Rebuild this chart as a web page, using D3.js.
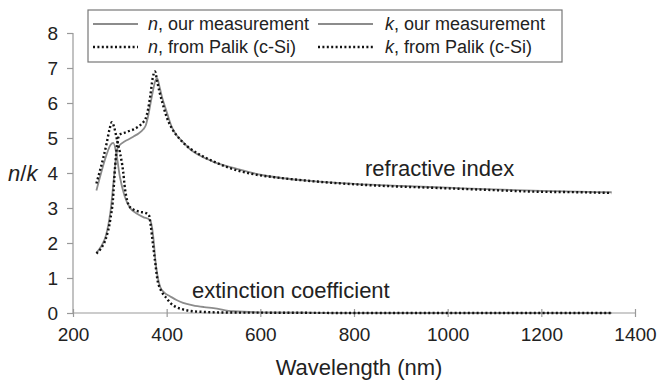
<!DOCTYPE html>
<html>
<head>
<meta charset="utf-8">
<script src="https://cdn.jsdelivr.net/npm/d3@7"></script>
<style>
  body { margin: 0; background: #fff; }
  text { font-family: "Liberation Sans", Arial, sans-serif; fill: #222; }
</style>
</head>
<body>
<script>
var w = 660,
    h = 381;

// n from Palik (c-Si), dotted black
var palikNWl = [250, 260, 270, 280, 285, 290, 295, 300, 310, 320, 330, 340, 350, 355, 360, 365, 370, 375, 380, 385, 390, 400, 410, 428, 445, 465, 500, 535, 580, 642, 700, 764, 850, 984, 1100, 1176, 1280, 1350];
var palikN   = [1.70, 1.85, 2.12, 2.70, 3.20, 4.20, 4.90, 5.10, 5.15, 5.20, 5.25, 5.33, 5.45, 5.55, 5.80, 6.20, 6.70, 6.90, 6.60, 6.30, 6.05, 5.60, 5.30, 4.97, 4.75, 4.57, 4.33, 4.14, 3.98, 3.86, 3.78, 3.71, 3.64, 3.57, 3.51, 3.47, 3.45, 3.43];

// n, our measurement, solid grey
var measNWl = [250, 260, 270, 280, 290, 295, 300, 310, 320, 330, 340, 350, 355, 360, 365, 370, 375, 380, 385, 390, 400, 411, 420, 430, 450, 475, 500, 550, 600, 650, 700, 800, 900, 1000, 1100, 1200, 1300, 1350];
var measN   = [1.72, 1.90, 2.20, 2.90, 4.20, 4.70, 4.80, 4.90, 4.97, 5.05, 5.13, 5.25, 5.35, 5.60, 5.95, 6.30, 6.60, 6.70, 6.45, 6.17, 5.75, 5.31, 5.10, 4.95, 4.68, 4.47, 4.32, 4.12, 3.95, 3.85, 3.78, 3.69, 3.63, 3.58, 3.53, 3.49, 3.46, 3.45];

// k from Palik (c-Si), dotted black
var palikKWl = [250, 258, 265, 272, 278, 283, 288, 294, 300, 307, 311, 316, 322, 330, 343, 355, 362, 366, 370, 375, 381, 386, 392, 400, 407, 420, 430, 450, 480, 520, 600, 700, 800, 1000, 1200, 1350];
var palikK   = [3.70, 4.09, 4.45, 4.86, 5.25, 5.45, 5.30, 4.95, 4.60, 4.05, 3.55, 3.20, 3.02, 2.95, 2.89, 2.86, 2.80, 2.50, 2.05, 1.50, 0.90, 0.70, 0.55, 0.42, 0.30, 0.17, 0.12, 0.06, 0.03, 0.015, 0.01, 0.005, 0, 0, 0, 0];

// k, our measurement, solid grey
var measKWl = [250, 260, 268, 275, 280, 286, 292, 300, 310, 322, 335, 350, 364, 368, 372, 376, 380, 386, 395, 407, 421, 435, 456, 480, 500, 542, 600, 700, 800, 1000, 1200, 1350];
var measK   = [3.50, 4.00, 4.37, 4.65, 4.80, 4.86, 4.60, 3.90, 3.35, 3.00, 2.85, 2.74, 2.66, 2.50, 2.10, 1.50, 1.10, 0.75, 0.58, 0.48, 0.37, 0.29, 0.22, 0.17, 0.14, 0.05, 0.02, 0.01, 0, 0, 0, 0];

var xTicks = [200, 400, 600, 800, 1000, 1200, 1400];
var yTicks = [0, 1, 2, 3, 4, 5, 6, 7, 8];

var margin = {left: 73, right: 25, top: 33, bottom: 68};

var x = d3.scaleLinear().domain([200, 1400]).range([margin.left, w - margin.right]);
var y = d3.scaleLinear().domain([0, 8]).range([h - margin.bottom, margin.top]);

var svg = d3.select("body").append("svg")
    .attr("width", w)
    .attr("height", h);

// axes
var yAxis = svg.append("g")
    .attr("transform", "translate(" + margin.left + ",0)")
    .call(d3.axisLeft(y).tickValues(yTicks).tickSize(6).tickPadding(9).tickFormat(d3.format("d")));

var xAxis = svg.append("g")
    .attr("transform", "translate(0," + y(0) + ")")
    .call(d3.axisBottom(x).tickValues(xTicks).tickSize(4).tickPadding(11).tickFormat(d3.format("d")));

[yAxis, xAxis].forEach((g) => {
    g.select(".domain").attr("stroke", "#999").attr("stroke-width", 1.2);
    g.selectAll(".tick line").attr("stroke", "#999").attr("stroke-width", 1.2);
    g.selectAll(".tick text")
        .style("font-size", "19px")
        .style("font-family", "'Liberation Sans', Arial, sans-serif")
        .attr("fill", "#222");
});
// x ticks cross the axis
xAxis.selectAll(".tick line").attr("y1", -4).attr("y2", 4);
xAxis.select(".domain").attr("d", "M" + x(200) + ",0H" + x(1400));
yAxis.select(".domain").attr("d", "M0," + y(0) + "V" + y(8));

// curves
const makeLine = (wl) => d3.line()
    .x((d, i) => x(wl[i]))
    .y((d) => y(d))
    .curve(d3.curveMonotoneX);

const series = [
    {wl: measNWl, v: measN, dotted: false},
    {wl: measKWl, v: measK, dotted: false},
    {wl: palikNWl, v: palikN, dotted: true},
    {wl: palikKWl, v: palikK, dotted: true}
];

series.forEach((s) => {
    svg.append("path")
        .datum(s.v)
        .attr("fill", "none")
        .attr("stroke", s.dotted ? "#111" : "#8c8c8c")
        .attr("stroke-width", s.dotted ? 2.4 : 1.8)
        .attr("stroke-dasharray", s.dotted ? "2,2.4" : null)
        .attr("d", makeLine(s.wl));
});

// annotations
svg.append("text")
    .attr("x", 365).attr("y", 176)
    .style("font-size", "22px")
    .text("refractive index");

svg.append("text")
    .attr("x", 192).attr("y", 298)
    .style("font-size", "22px")
    .text("extinction coefficient");

svg.append("text")
    .attr("x", 359).attr("y", 375)
    .attr("text-anchor", "middle")
    .style("font-size", "22px")
    .text("Wavelength (nm)");

var yl = svg.append("text")
    .attr("x", 8).attr("y", 181)
    .style("font-size", "22px");
yl.append("tspan").style("font-style", "italic").text("n");
yl.append("tspan").text("/");
yl.append("tspan").style("font-style", "italic").text("k");

// legend
var legend = svg.append("g");
legend.append("rect")
    .attr("x", 88).attr("y", 10)
    .attr("width", 474).attr("height", 52)
    .attr("fill", "#fff")
    .attr("stroke", "#777")
    .attr("stroke-width", 1.2);

var legendItems = [
    {sym: "n", label: ", our measurement", dotted: false, col: 0, row: 0},
    {sym: "k", label: ", our measurement", dotted: false, col: 1, row: 0},
    {sym: "n", label: ", from Palik (c-Si)", dotted: true, col: 0, row: 1},
    {sym: "k", label: ", from Palik (c-Si)", dotted: true, col: 1, row: 1}
];
var lineX = [[93, 138], [318, 373]];
var textX = [148, 385];

legendItems.forEach((it) => {
    var ly = 24 + it.row * 23;
    legend.append("line")
        .attr("x1", lineX[it.col][0]).attr("x2", lineX[it.col][1])
        .attr("y1", ly).attr("y2", ly)
        .attr("stroke", it.dotted ? "#111" : "#8c8c8c")
        .attr("stroke-width", it.dotted ? 2.4 : 1.8)
        .attr("stroke-dasharray", it.dotted ? "2,2.4" : null);
    var t = legend.append("text")
        .attr("x", textX[it.col]).attr("y", ly + 6)
        .style("font-size", "18px");
    t.append("tspan").style("font-style", "italic").text(it.sym);
    t.append("tspan").text(it.label);
});
</script>
</body>
</html>
